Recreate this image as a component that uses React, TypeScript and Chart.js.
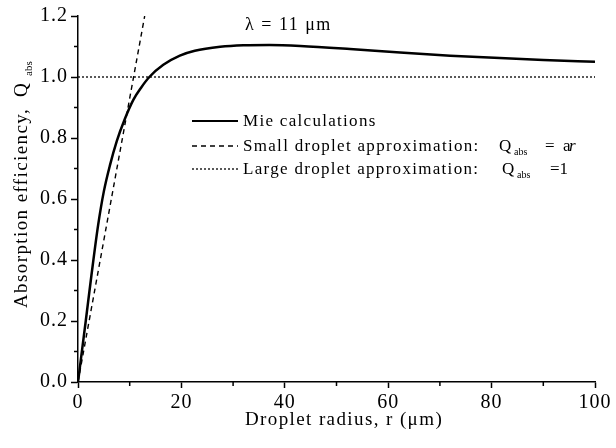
import React, { useEffect, useRef } from "react";
import { Chart, registerables } from "chart.js";

Chart.register(...registerables);

// ---- data ----
const mieRadius = [0, 0.6, 1.5, 2.6, 3.9, 5.0, 6.2, 7.5, 9.0, 10.7, 12.2, 13.8, 16.5, 19.7, 22.6, 27.5, 32, 37, 43, 52.6, 62.3, 72, 81.6, 90, 100];
const mieQ = [0, 0.08, 0.2, 0.35, 0.515, 0.625, 0.712, 0.79, 0.86, 0.925, 0.965, 1.0, 1.04, 1.07, 1.086, 1.099, 1.104, 1.105, 1.102, 1.092, 1.08, 1.07, 1.062, 1.056, 1.05];
const smallRadius = [0, 12.9];
const smallQ = [0, 1.2];
const largeRadius = [0, 100];
const largeQ = [1, 1];
const xMinorTicks = [10, 30, 50, 70, 90];
const yMinorTicks = [0.1, 0.3, 0.5, 0.7, 0.9, 1.1];

const SERIF = '"Liberation Serif", "Times New Roman", serif';
const f = (size: number, style = "") => `${style} ${size}px ${SERIF}`.trim();

const toPts = (xs: number[], ys: number[]) => xs.map((x, i) => ({ x, y: ys[i] }));

const spacingPlugin = {
  id: "spacing",
  beforeDraw(chart: any) {
    (chart.ctx as any).letterSpacing = "1px";
  },
};

const decorPlugin = {
  id: "decor",
  afterDraw(chart: any) {
    const ctx: CanvasRenderingContext2D = chart.ctx;
    const area = chart.chartArea;
    const xs = chart.scales.x;
    const ys = chart.scales.y;
    ctx.save();
    ctx.strokeStyle = "#000";
    ctx.lineWidth = 1.5;
    // minor ticks
    ctx.beginPath();
    for (const v of yMinorTicks) {
      const p = ys.getPixelForValue(v);
      ctx.moveTo(area.left - 4, p);
      ctx.lineTo(area.left, p);
    }
    for (const v of xMinorTicks) {
      const p = xs.getPixelForValue(v);
      ctx.moveTo(p, area.bottom);
      ctx.lineTo(p, area.bottom + 4);
    }
    ctx.stroke();

    ctx.fillStyle = "#000";

    // x title
    (ctx as any).letterSpacing = "1.4px";
    ctx.font = f(19);
    ctx.textAlign = "center";
    ctx.textBaseline = "alphabetic";
    ctx.fillText("Droplet radius, r (\u03bcm)", 344, 425);

    // y title (rotated)
    ctx.save();
    ctx.translate(27, 0);
    ctx.rotate(-Math.PI / 2);
    ctx.textAlign = "left";
    ctx.font = f(19);
    (ctx as any).letterSpacing = "1.4px";
    ctx.fillText("Absorption efficiency,", -308, 0);
    (ctx as any).letterSpacing = "0px";
    ctx.fillText("Q", -97, 0);
    ctx.font = f(11);
    ctx.fillText("abs", -76, 5);
    ctx.restore();

    // lambda label
    ctx.textAlign = "left";
    (ctx as any).letterSpacing = "1.5px";
    ctx.font = f(18);
    ctx.fillText("\u03bb = 11 \u03bcm", 245, 30);

    // legend
    const lx0 = 192, lx1 = 238, tx = 243;
    const rows = [
      { y: 121, dash: [] as number[], w: 2.2 },
      { y: 146, dash: [5, 4], w: 1.4 },
      { y: 169, dash: [2, 2], w: 1.3 },
    ];
    for (const r of rows) {
      ctx.beginPath();
      ctx.setLineDash(r.dash);
      ctx.lineWidth = r.w;
      ctx.moveTo(lx0, r.y);
      ctx.lineTo(lx1, r.y);
      ctx.stroke();
    }
    ctx.setLineDash([]);
    (ctx as any).letterSpacing = "1.3px";
    ctx.font = f(17);
    ctx.fillText("Mie calculations", tx, 126);
    ctx.fillText("Small droplet approximation:", tx, 151);
    ctx.fillText("Large droplet approximation:", tx, 174);
    (ctx as any).letterSpacing = "0px";
    ctx.fillText("Q", 499, 151);
    ctx.fillText("=  a", 545, 151);
    ctx.font = f(17, "italic");
    ctx.fillText("r", 569, 151);
    ctx.font = f(17);
    ctx.fillText("Q", 502, 174);
    ctx.fillText("=1", 550, 174);
    ctx.font = f(10);
    ctx.fillText("abs", 514, 155);
    ctx.fillText("abs", 517, 178);
    ctx.restore();
  },
};

export default function App() {
  const ref = useRef<HTMLCanvasElement>(null);
  useEffect(() => {
    if (!ref.current) return;
    const chart = new Chart(ref.current, {
      type: "line",
      data: {
        datasets: [
          {
            label: "Mie calculations",
            data: toPts(mieRadius, mieQ),
            borderColor: "#000",
            borderWidth: 2.5,
            pointRadius: 0,
            cubicInterpolationMode: "monotone",
            fill: false,
          },
          {
            label: "Small droplet approximation",
            data: toPts(smallRadius, smallQ),
            borderColor: "#000",
            borderWidth: 1.4,
            borderDash: [5, 4],
            pointRadius: 0,
            fill: false,
          },
          {
            label: "Large droplet approximation",
            data: toPts(largeRadius, largeQ),
            borderColor: "#000",
            borderWidth: 1.3,
            borderDash: [2, 2],
            pointRadius: 0,
            fill: false,
          },
        ],
      },
      options: {
        animation: false,
        responsive: true,
        maintainAspectRatio: false,
        layout: { padding: { left: 0, right: 21, top: 16, bottom: 0 } },
        plugins: { legend: { display: false }, tooltip: { enabled: false } },
        scales: {
          x: {
            type: "linear",
            min: 0,
            max: 100,
            ticks: { stepSize: 20, color: "#000", font: { family: SERIF, size: 20 }, padding: 3, maxRotation: 0 },
            grid: { drawOnChartArea: false, drawTicks: true, tickLength: 6, tickColor: "#000", tickWidth: 1.5 },
            border: { display: true, color: "#000", width: 1.5 },
            afterFit: (s: any) => { s.height = 66; },
          },
          y: {
            type: "linear",
            min: 0,
            max: 1.2,
            ticks: {
              stepSize: 0.2,
              color: "#000",
              font: { family: SERIF, size: 20 },
              padding: 3,
              callback: (v: any) => Number(v).toFixed(1),
            },
            grid: { drawOnChartArea: false, drawTicks: true, tickLength: 7, tickColor: "#000", tickWidth: 1.5 },
            border: { display: true, color: "#000", width: 1.5 },
            afterFit: (s: any) => { s.width = 78; },
          },
        },
      } as any,
      plugins: [spacingPlugin, decorPlugin],
    });
    return () => chart.destroy();
  }, []);
  return (
    <div style={{ position: "fixed", left: 0, top: 0, width: 616, height: 448, background: "#fff" }}>
      <canvas ref={ref} />
    </div>
  );
}
